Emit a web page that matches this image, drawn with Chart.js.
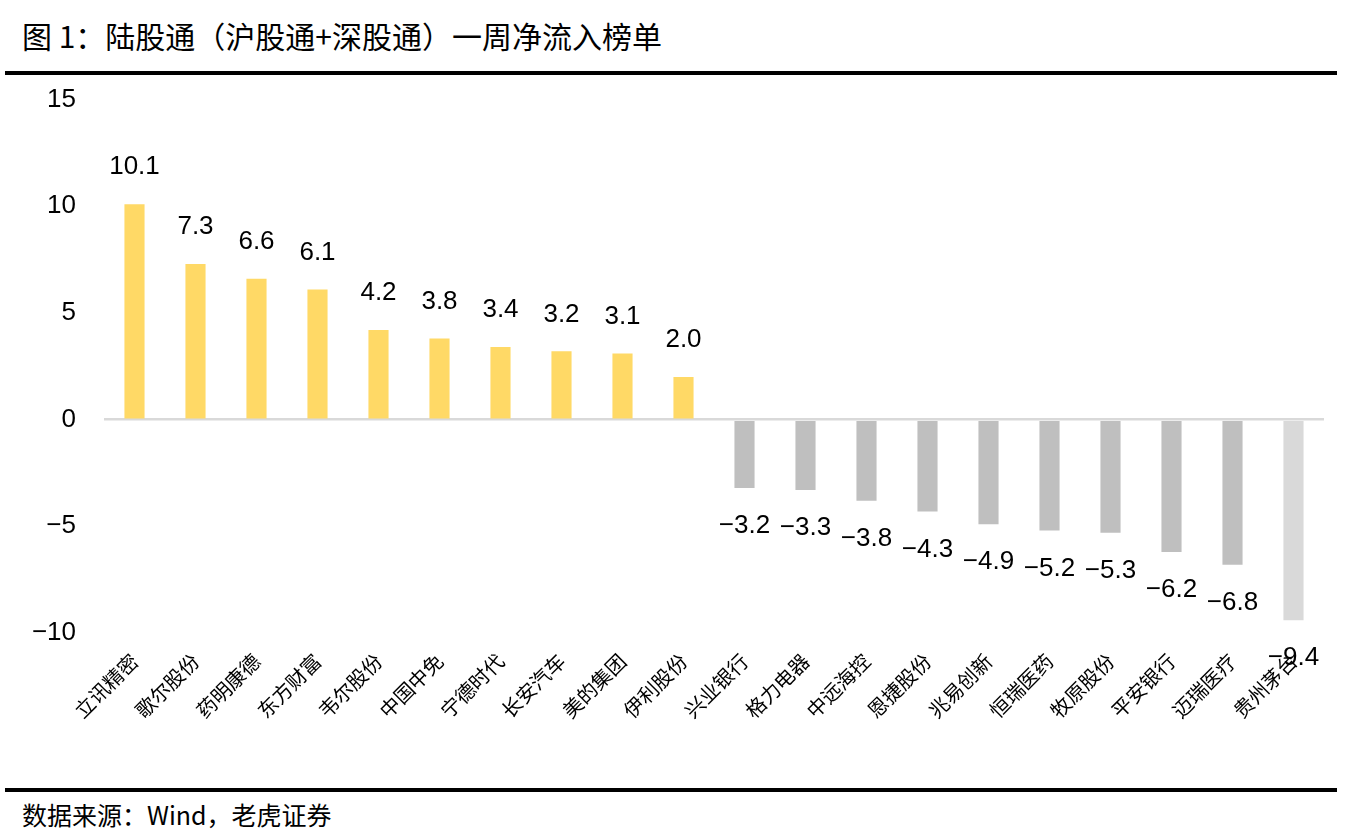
<!DOCTYPE html>
<html>
<head>
<meta charset="utf-8">
<script src="https://cdn.jsdelivr.net/npm/chart.js@4"></script>
<style>
  html, body { margin: 0; padding: 0; background: #fff; }
  body { width: 1357px; height: 831px; position: relative; overflow: hidden; font-family: "Noto Sans CJK SC", "Liberation Sans", sans-serif; }
  #title { position: absolute; left: 22px; top: 14px; font-size: 30px; color: #000; line-height: 42px; white-space: nowrap; }
  .rule { position: absolute; left: 5px; width: 1332px; height: 4px; background: #000; }
  #source { position: absolute; left: 22px; top: 798px; font-size: 25px; color: #000; line-height: 32px; white-space: nowrap; }
  #wrap { position: absolute; left: 0; top: 56px; width: 1357px; height: 714px; }
</style>
</head>
<body>
<div id="title">图 1：陆股通（沪股通+深股通）一周净流入榜单</div>
<div class="rule" style="top:71px"></div>
<div id="wrap"><canvas id="c"></canvas></div>
<div class="rule" style="top:788px"></div>
<div id="source">数据来源：Wind，老虎证券</div>
<script>
const categories = ["立讯精密","歌尔股份","药明康德","东方财富","韦尔股份","中国中免","宁德时代","长安汽车","美的集团","伊利股份","兴业银行","格力电器","中远海控","恩捷股份","兆易创新","恒瑞医药","牧原股份","平安银行","迈瑞医疗","贵州茅台"];
const netInflow = [10.1,7.3,6.6,6.1,4.2,3.8,3.4,3.2,3.1,2.0,-3.2,-3.3,-3.8,-4.3,-4.9,-5.2,-5.3,-6.2,-6.8,-9.4];
const yTicks = [-10,-5,0,5,10,15];

const YELLOW = "#FFD966", GRAY = "#BFBFBF", LIGHT = "#D9D9D9";
const barColors = netInflow.map((v, i) => i === netInflow.length - 1 ? LIGHT : (v >= 0 ? YELLOW : GRAY));
const fmt = v => (v < 0 ? "\u2212" : "") + Math.abs(v).toFixed(1);

const valueLabels = {
  id: "valueLabels",
  afterDatasetsDraw(chart) {
    const ctx = chart.ctx;
    const meta = chart.getDatasetMeta(0);
    ctx.save();
    ctx.font = "26px 'Liberation Sans', Arial, sans-serif";
    ctx.fillStyle = "#000";
    ctx.textAlign = "center";
    ctx.textBaseline = "middle";
    meta.data.forEach((bar, i) => {
      const v = netInflow[i];
      const y = v >= 0 ? bar.y - 37 : bar.y + 38;
      ctx.fillText(fmt(v), bar.x, y);
    });
    ctx.restore();
  }
};

new Chart(document.getElementById("c"), {
  type: "bar",
  data: {
    labels: categories,
    datasets: [{ data: netInflow, backgroundColor: barColors, borderWidth: 0, barPercentage: 0.33, categoryPercentage: 1 }]
  },
  options: {
    responsive: true,
    maintainAspectRatio: false,
    animation: false,
    layout: { padding: { top: 0, right: 33, left: 0, bottom: 0 } },
    plugins: { legend: { display: false }, tooltip: { enabled: false }, title: { display: false } },
    scales: {
      x: {
        grid: { display: false },
        border: { display: false },
        ticks: {
          color: "#000",
          font: { family: "'Noto Sans CJK SC', sans-serif", size: 20 },
          minRotation: 45, maxRotation: 45, autoSkip: false, padding: 8
        },
        afterFit(scale) { scale.height = 137; }
      },
      y: {
        min: -10, max: 15,
        afterBuildTicks(scale) { scale.ticks = yTicks.map(v => ({ value: v })); },
        grid: {
          color: ctx => ctx.tick && ctx.tick.value === 0 ? LIGHT : "rgba(0,0,0,0)",
          lineWidth: 2.5,
          drawTicks: false
        },
        border: { display: false },
        ticks: {
          color: "#000",
          font: { family: "'Liberation Sans', Arial, sans-serif", size: 26 },
          padding: 28,
          callback: v => (v < 0 ? "\u2212" : "") + Math.abs(v)
        },
        afterFit(scale) { scale.width = 104; }
      }
    }
  },
  plugins: [valueLabels]
});
</script>
</body>
</html>
